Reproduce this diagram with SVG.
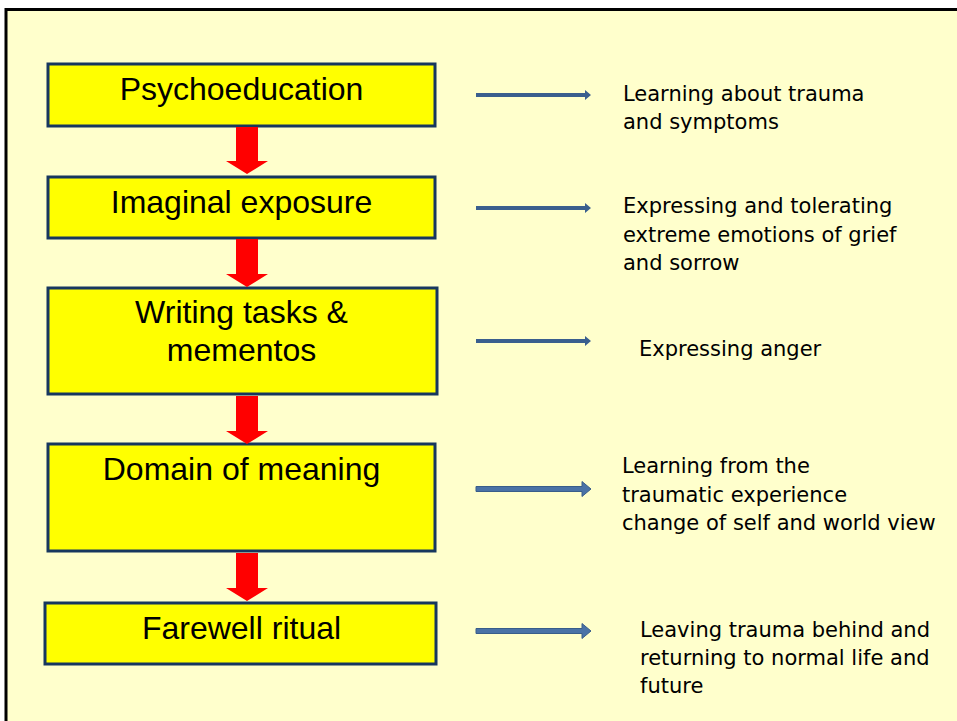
<svg xmlns="http://www.w3.org/2000/svg" width="957" height="721" viewBox="0 0 957 721">
<defs>
<style>
.box{fill:#FFFF00;stroke:#17375E;stroke-width:3}
.bt{font-family:"Liberation Sans",Arial,sans-serif;font-size:32px;fill:#000;text-anchor:middle}
.rt{font-family:"DejaVu Sans",Verdana,sans-serif;font-size:21px;fill:#000}
.red{fill:#FF0000}
.blue{fill:#3A5F8E}
.blue2{fill:#4A72A6;stroke:#385D8A;stroke-width:1}
</style>
</defs>
<rect x="0" y="0" width="957" height="721" fill="#FFFFFF"/>
<rect x="6" y="9.5" width="960" height="720" fill="#FFFFCC" stroke="#000" stroke-width="3"/>

<g id="n1"><rect class="box" x="48" y="64" width="387" height="62"/><text class="bt" x="241.5" y="100">Psychoeducation</text></g>
<g id="n2"><rect class="box" x="48" y="177" width="387" height="61"/><text class="bt" x="241.5" y="213">Imaginal exposure</text></g>
<g id="n3"><rect class="box" x="48" y="288" width="389" height="106"/><text class="bt" x="241.5" y="323">Writing tasks &amp;</text><text class="bt" x="241.5" y="361">mementos</text></g>
<g id="n4"><rect class="box" x="48" y="444" width="387" height="107"/><text class="bt" x="241.5" y="480">Domain of meaning</text></g>
<g id="n5"><rect class="box" x="45" y="603" width="391" height="61"/><text class="bt" x="241.5" y="639">Farewell ritual</text></g>

<g id="d1"><text class="rt" x="623" y="101">Learning about trauma</text><text class="rt" x="623" y="129">and symptoms</text></g>
<g id="d2"><text class="rt" x="623" y="213">Expressing and tolerating</text><text class="rt" x="623" y="242">extreme emotions of grief</text><text class="rt" x="623" y="270">and sorrow</text></g>
<g id="d3"><text class="rt" x="639" y="356">Expressing anger</text></g>
<g id="d4"><text class="rt" x="622" y="473">Learning from the</text><text class="rt" x="622" y="502">traumatic experience</text><text class="rt" x="622" y="530">change of self and world view</text></g>
<g id="d5"><text class="rt" x="640" y="637">Leaving trauma behind and</text><text class="rt" x="640" y="665">returning to normal life and</text><text class="rt" x="640" y="693">future</text></g>

<g id="connectors">
<polygon class="red" points="236,127 258,127 258,161 268,161 247,174 226,161 236,161"/>
<polygon class="red" points="236,239 258,239 258,274 268,274 247,287 226,274 236,274"/>
<polygon class="red" points="236,396 258,396 258,431 268,431 247,444 226,431 236,431"/>
<polygon class="red" points="236,553 258,553 258,588 268,588 247,601 226,588 236,588"/>
<polygon class="blue" points="476,93 585,93 585,90 591,95 585,100 585,97 476,97"/>
<polygon class="blue" points="476,206 585,206 585,203 591,208 585,213 585,210 476,210"/>
<polygon class="blue" points="476,339 585,339 585,336 591,341 585,346 585,343 476,343"/>
<polygon class="blue2" points="476,486.5 582,486.5 582,481.5 591,489 582,496.5 582,491.5 476,491.5"/>
<polygon class="blue2" points="476,628.5 582,628.5 582,623.5 591,631 582,638.5 582,633.5 476,633.5"/>
</g>
</svg>
